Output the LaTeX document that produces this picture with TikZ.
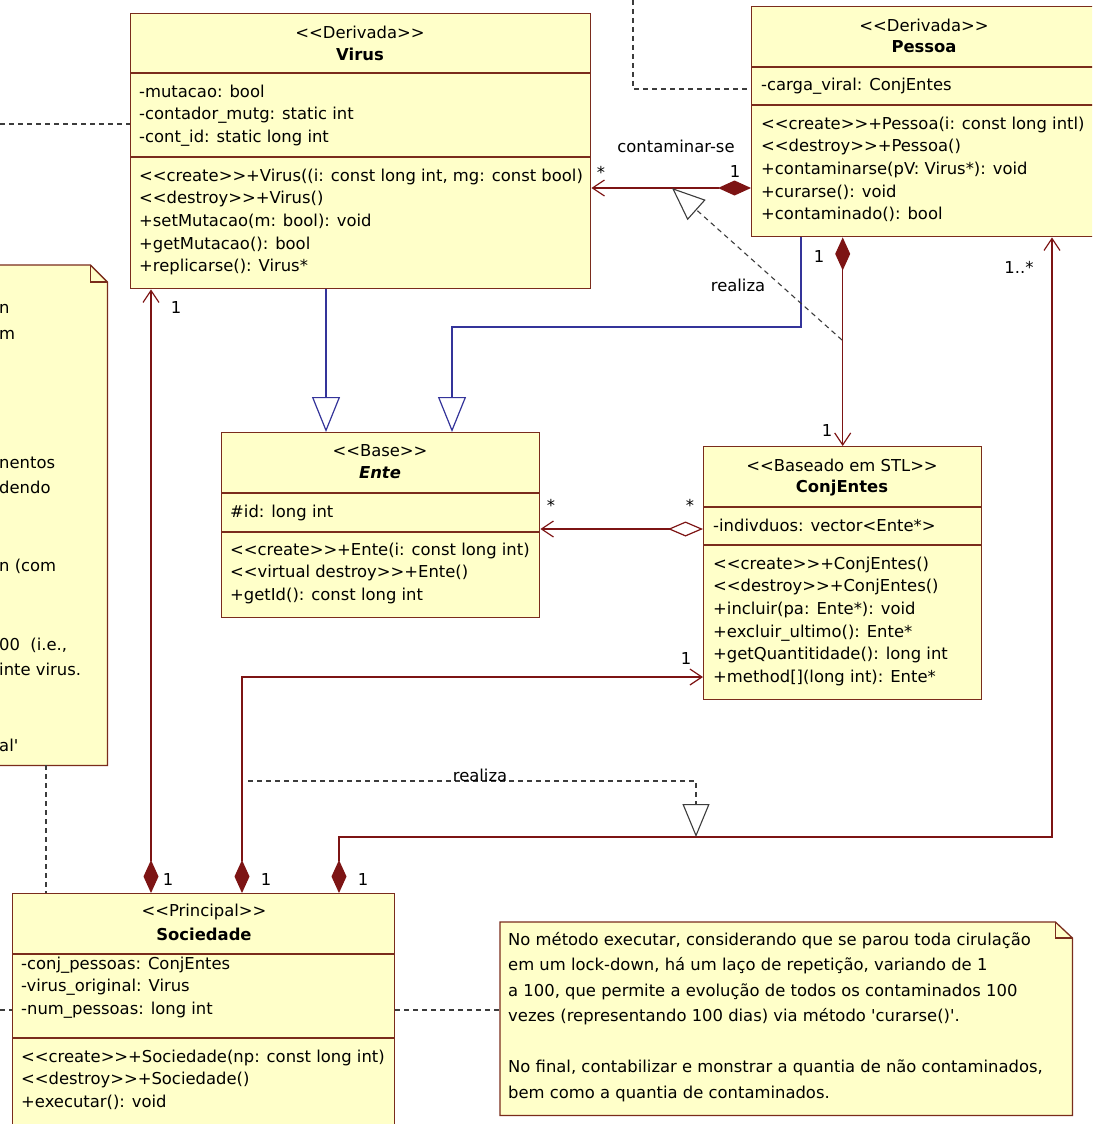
\documentclass[tikz,border=0pt]{standalone}
\usepackage{fontspec}
\newfontfamily\umlfont{DejaVu Sans}
\usetikzlibrary{calc}
\usetikzlibrary{arrows.meta}

\definecolor{boxfill}{HTML}{FFFFC9}
\definecolor{boxedge}{HTML}{7A2C1C}
\definecolor{assoc}{HTML}{7D1414}
\definecolor{gener}{HTML}{34349A}
\definecolor{depgray}{HTML}{3C3C3C}

\newcommand{\umlsize}{\umlfont\fontsize{16.4}{22.7}\selectfont}
\newcommand{\notesize}{\umlfont\fontsize{16.4}{25.5}\selectfont}

\tikzset{
  classbox/.style={draw=boxedge, fill=boxfill, line width=1.4pt, anchor=north west, inner sep=0pt},
  divider/.style={draw=boxedge, line width=1.4pt},
  txt/.style={inner sep=0pt, font=\umlsize},
  cname/.style={inner sep=0pt, font=\umlsize\bfseries},
  % the base anchor of a multi-line node is the baseline of its last line
  members/.style={txt, anchor=base west, align=left},
  notetxt/.style={inner sep=0pt, font=\notesize, anchor=base west, align=left},
  noteframe/.style={anchor=north west, inner sep=0pt},
  noteedge/.style={draw=boxedge, fill=boxfill, line width=1.3pt},
  compline/.style={draw=assoc, line width=1.2pt, {Diamond[length=33pt,width=15pt]}-{Straight Barb[length=12pt,width=16pt]}},
  aggline/.style={draw=assoc, line width=1.2pt, {Diamond[length=35pt,width=15pt,fill=white]}-{Straight Barb[length=12pt,width=16pt]}},
  genline/.style={draw=gener, line width=1.2pt, -{Triangle[length=35pt,width=28pt,fill=white]}},
  realline/.style={draw=depgray, line width=1.1pt, dash pattern=on 5pt off 4pt, -{Triangle[length=33pt,width=27pt,fill=white]}},
  depline/.style={draw=depgray, line width=1.1pt, dash pattern=on 5pt off 4pt},
}

\begin{document}
\begin{tikzpicture}[x=1pt, y=-1pt]
  \useasboundingbox (0,0) rectangle (1092,1124);
  \clip (0,0) rectangle (1092,1124);

  % notes
  \node[noteframe, minimum width=127pt, minimum height=500pt] (lnote) at (-20,265) {};
  \path[noteedge] (lnote.north west) -- ([xshift=-17pt]lnote.north east) -- ([yshift=-17pt]lnote.north east)
    -- (lnote.south east) -- (lnote.south west) -- cycle;
  \draw[boxedge, line width=1.3pt] ([xshift=-17pt]lnote.north east) |- ([yshift=-17pt]lnote.north east);
  \node[notetxt] (ln1) at (-1,313) {n};
  \node[notetxt] (ln2) at (-1,339) {m};
  \node[notetxt] (ln3) at (-1,493.5) {nentos\\dendo};
  \node[notetxt] (ln4) at (-1,571) {n (com};
  \node[notetxt] (ln5) at (-1,675.5) {00\ \ (i.e.,\\inte virus.};
  \node[notetxt] (ln6) at (-1,751) {al'};

  \node[noteframe, minimum width=572pt, minimum height=193pt] (rnote) at (500,922) {};
  \path[noteedge] (rnote.north west) -- ([xshift=-17pt]rnote.north east) -- ([yshift=-16pt]rnote.north east)
    -- (rnote.south east) -- (rnote.south west) -- cycle;
  \draw[boxedge, line width=1.3pt] ([xshift=-17pt]rnote.north east) |- ([yshift=-16pt]rnote.north east);
  \node[notetxt] (rntext) at (508,1098) {No método executar, considerando que se parou toda cirulação\\
    em um lock-down, há um laço de repetição, variando de 1\\
    a 100, que permite a evolução de todos os contaminados 100\\
    vezes (representando 100 dias) via método 'curarse()'.\\[25.5pt]
    No final, contabilizar e monstrar a quantia de não contaminados,\\
    bem como a quantia de contaminados.};

  % Virus
  \node[classbox, minimum width=460pt, minimum height=275pt] (virus) at (130,13) {};
  \draw[divider] (virus.west |- 0,73) -- (virus.east |- 0,73);
  \draw[divider] (virus.west |- 0,157) -- (virus.east |- 0,157);
  \node[txt] (virusst) at (360,32) {<<Derivada>>};
  \node[cname] (virusnm) at (360,54) {Virus};
  \node[members] (virusat) at (139,142.4) {-mutacao: bool\\-contador\_mutg: static int\\-cont\_id: static long int};
  \node[members] (virusop) at (139,271.8) {<<create>>+Virus((i: const long int, mg: const bool)\\<<destroy>>+Virus()\\
    +setMutacao(m: bool): void\\+getMutacao(): bool\\+replicarse(): Virus*};

  % Pessoa
  \node[classbox, minimum width=350pt, minimum height=230pt] (pessoa) at (751,6) {};
  \draw[divider] (pessoa.west |- 0,67) -- (pessoa.east |- 0,67);
  \draw[divider] (pessoa.west |- 0,105) -- (pessoa.east |- 0,105);
  \node[txt] (pessoast) at (924,25) {<<Derivada>>};
  \node[cname] (pessoanm) at (924,47) {Pessoa};
  \node[members] (pessoaat) at (761,90) {-carga\_viral: ConjEntes};
  \node[members] (pessoaop) at (761,219.8) {<<create>>+Pessoa(i: const long intl)\\<<destroy>>+Pessoa()\\
    +contaminarse(pV: Virus*): void\\+curarse(): void\\+contaminado(): bool};

  % Ente
  \node[classbox, minimum width=318pt, minimum height=185pt] (ente) at (221,432) {};
  \draw[divider] (ente.west |- 0,493) -- (ente.east |- 0,493);
  \draw[divider] (ente.west |- 0,532) -- (ente.east |- 0,532);
  \node[txt] (entest) at (380,451) {<<Base>>};
  \node[cname, font=\umlsize\bfseries\itshape] (entenm) at (380,473) {Ente};
  \node[members] (enteat) at (230,517) {\#id: long int};
  \node[members] (enteop) at (230,600.4) {<<create>>+Ente(i: const long int)\\<<virtual destroy>>+Ente()\\+getId(): const long int};

  % ConjEntes
  \node[classbox, minimum width=278pt, minimum height=253pt] (conj) at (703,446) {};
  \draw[divider] (conj.west |- 0,507) -- (conj.east |- 0,507);
  \draw[divider] (conj.west |- 0,545) -- (conj.east |- 0,545);
  \node[txt] (conjst) at (842,465) {<<Baseado em STL>>};
  \node[cname] (conjnm) at (842,488) {ConjEntes};
  \node[members] (conjat) at (713,531) {-indivduos: vector<Ente*>};
  \node[members] (conjop) at (713,682.5) {<<create>>+ConjEntes()\\<<destroy>>+ConjEntes()\\+incluir(pa: Ente*): void\\
    +excluir\_ultimo(): Ente*\\+getQuantitidade(): long int\\+method[](long int): Ente*};

  % Sociedade
  \node[classbox, minimum width=382pt, minimum height=232pt] (soc) at (12,893) {};
  \draw[divider] (soc.west |- 0,954) -- (soc.east |- 0,954);
  \draw[divider] (soc.west |- 0,1038) -- (soc.east |- 0,1038);
  \node[txt] (socst) at (204,912) {<<Principal>>};
  \node[cname] (socnm) at (204,934) {Sociedade};
  \node[members] (socat) at (21,1014.4) {-conj\_pessoas: ConjEntes\\-virus\_original: Virus\\-num\_pessoas: long int};
  \node[members] (socop) at (21,1107.4) {<<create>>+Sociedade(np: const long int)\\<<destroy>>+Sociedade()\\+executar(): void};

  % generalizacoes
  \draw[genline] (virus.south -| 326,0) -- (ente.north -| 326,0);
  \draw[genline] (pessoa.south -| 801,0) |- (452,327) -- (ente.north -| 452,0);

  % associacoes
  \draw[compline] (pessoa.west |- 0,188) -- (virus.east |- 0,188);
  \draw[compline] (conj.north |- pessoa.south) -- (conj.north);
  \draw[aggline] (conj.west |- 0,529) -- (ente.east |- 0,529);
  \draw[compline] (soc.north -| 151,0) -- (virus.south -| 151,0);
  \draw[compline] (soc.north -| 242,0) |- (conj.west |- 0,677);
  \draw[compline] (soc.north -| 339,0) |- (1052,837) -- (pessoa.south -| 1052,0);

  % realizacoes
  \coordinate (contam) at (672,188);
  \coordinate (onconj) at (842,340);
  \coordinate (onsoc) at (248,781);
  \coordinate (onpes) at (696,837);
  \draw[realline] (onconj) -- (contam);
  \draw[realline] (onsoc) -| (onpes);

  % dependencias das notas
  \coordinate (leftA) at (0,124);
  \coordinate (leftB) at (0,1010);
  \coordinate (topA) at (633,0);
  \draw[depline] (leftA) -- (virus.west |- leftA);
  \draw[depline] (leftB) -- (soc.west |- leftB);
  \draw[depline] (topA) |- (pessoa.west |- 0,89);
  \draw[depline] (lnote.south -| 46,0) -- (soc.north -| 46,0);
  \draw[depline] (soc.east |- 0,1010) -- (rnote.west |- 0,1010);

  % rotulos
  \node[txt] (lblcont) at (676,146) {contaminar-se};
  \node[txt] (m1) at (601,172) {*};
  \node[txt] (m2) at (735,172) {1};
  \node[txt] (m3) at (819,257) {1};
  \node[txt] (m4) at (827,431) {1};
  \node[txt] (m5) at (1019,267) {1..*};
  \node[txt] (lblreal1) at (738,285) {realiza};
  \node[txt] (m6) at (551,505) {*};
  \node[txt] (m7) at (690,505) {*};
  \node[txt] (m8) at (686,659) {1};
  \node[txt] (m9) at (176,308) {1};
  \node[txt] (lblreal2) at (480,775) {realiza};
  \node[txt] (m10) at (168,880) {1};
  \node[txt] (m11) at (266,880) {1};
  \node[txt] (m12) at (363,880) {1};
\end{tikzpicture}
\end{document}
